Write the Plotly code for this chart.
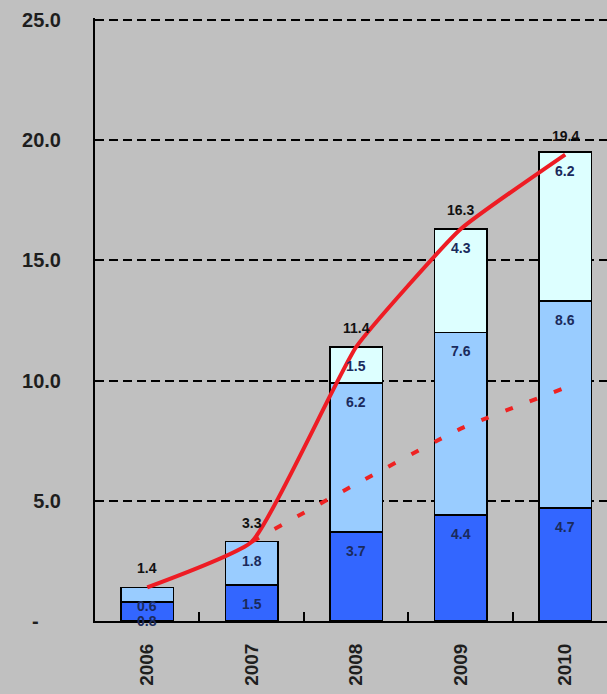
import plotly.graph_objects as go

years = ["2006", "2007", "2008", "2009", "2010"]
seg_bottom = [0.8, 1.5, 3.7, 4.4, 4.7]
seg_middle = [0.6, 1.8, 6.2, 7.6, 8.6]
seg_top = [0.0, 0.0, 1.5, 4.3, 6.2]
totals = [1.4, 3.3, 11.4, 16.3, 19.4]
trend_solid = [1.4, 3.3, 11.4, 16.3, 19.4]
trend_dotted = [None, 3.3, 5.7, 8.0, 9.7]
y_tickvals = [0, 5, 10, 15, 20, 25]
y_ticktext = ["-\u00a0\u00a0\u00a0\u00a0", "5.0", "10.0", "15.0", "20.0", "25.0"]

BG = "#c0c0c0"
FAM = "Liberation Sans, Arial"
fig = go.Figure()
bar_line = dict(color="black", width=1.5)
for vals, col in [(seg_bottom, "#3366ff"), (seg_middle, "#99ccff"), (seg_top, "#ddffff")]:
    fig.add_trace(go.Bar(x=years, y=vals, marker=dict(color=col, line=bar_line),
                         width=0.5, showlegend=False, hoverinfo="skip"))

fig.add_trace(go.Scatter(x=years, y=trend_dotted, mode="lines",
                         line=dict(color="#ee2222", width=4, dash="8px,18px", shape="spline", smoothing=0.4),
                         showlegend=False, connectgaps=False))
fig.add_trace(go.Scatter(x=years, y=trend_solid, mode="lines",
                         line=dict(color="#ee1c24", width=4, shape="spline", smoothing=0.4),
                         showlegend=False))

annotations = []
lab_font = dict(family=FAM, size=14, color="#1a2a5c")
for i, y in enumerate(years):
    cum = 0
    for vals in (seg_bottom, seg_middle, seg_top):
        v = vals[i]
        cum += v
        if v > 0:
            annotations.append(dict(x=i, y=cum, xref="x", yref="y", text=f"<b>{v:.1f}</b>",
                                    showarrow=False, yshift=-19, font=lab_font))
    annotations.append(dict(x=i, y=totals[i], xref="x", yref="y", text=f"<b>{totals[i]:.1f}</b>",
                            showarrow=False, yshift=19,
                            font=dict(family=FAM, size=14, color="#111111")))

fig.update_layout(
    barmode="stack",
    width=607, height=694,
    margin=dict(l=95, r=0, t=18, b=73),
    paper_bgcolor=BG, plot_bgcolor=BG,
    annotations=annotations,
    font=dict(family=FAM, color="#1e1e1e"),
)
fig.update_xaxes(
    type="category", range=[-0.5, 4.4],
    showline=True, linecolor="black", linewidth=2,
    ticks="inside", tickson="boundaries", ticklen=9, tickcolor="black", tickwidth=2,
    tickangle=-90, tickfont=dict(size=19, family=FAM, color="#1e1e1e"),
    ticklabelstandoff=13,
    tickvals=years, ticktext=[f"<b>{y}</b>" for y in years],
    showgrid=False,
)
fig.update_yaxes(
    range=[0, 25.08],
    tickvals=y_tickvals, ticktext=[f"<b>{t}</b>" for t in y_ticktext],
    tickfont=dict(size=20, family=FAM, color="#1e1e1e"),
    showline=True, linecolor="black", linewidth=2,
    showgrid=True, gridcolor="black", gridwidth=1.5, griddash="9px,5px",
    zeroline=False, ticks="", ticklabelstandoff=28,
)

fig.write_html("out.html")
